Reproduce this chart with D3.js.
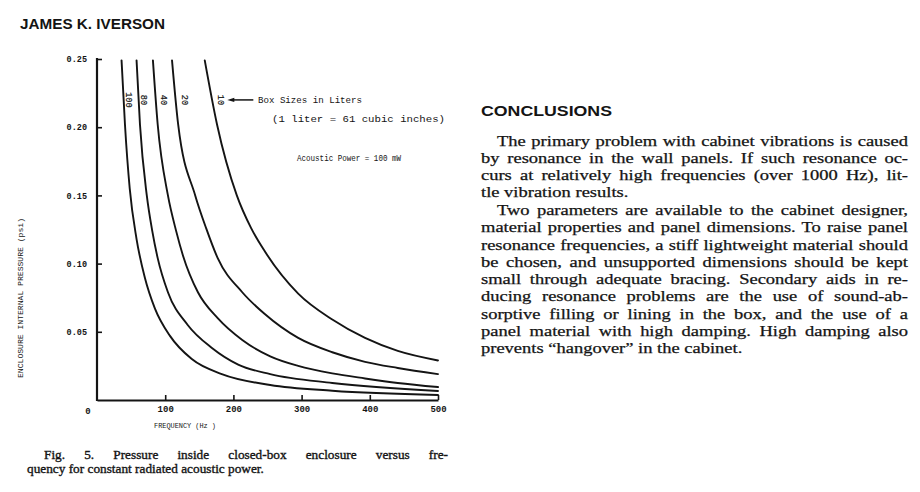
<!DOCTYPE html>
<html><head><meta charset="utf-8">
<script src="https://cdn.jsdelivr.net/npm/d3@7"></script>
<style>
html,body{margin:0;padding:0;background:#fff;}
svg{display:block;}
</style></head>
<body>
<svg id="c" width="920" height="492"></svg>
<script>
// ---- data ----
const boxSizes = [100, 80, 40, 20, 10];
const freq100 = [36, 41, 48, 58, 70, 85, 107, 139, 183, 254, 345, 500];
const psi100  = [0.249, 0.202, 0.155, 0.118, 0.090, 0.067, 0.047, 0.030, 0.019, 0.011, 0.0068, 0.0037];
const freq80  = [58, 63, 73, 81, 89, 104, 133, 169, 207, 254, 345, 500];
const psi80   = [0.249, 0.202, 0.150, 0.124, 0.104, 0.079, 0.055, 0.038, 0.026, 0.019, 0.0125, 0.0066];
const freq40  = [82, 89, 104, 116, 126, 148, 177, 213, 254, 295, 345, 393, 441, 500];
const psi40   = [0.249, 0.202, 0.150, 0.124, 0.106, 0.079, 0.060, 0.044, 0.032, 0.025, 0.0195, 0.0158, 0.0125, 0.0095];
const freq20  = [110, 119, 144, 160, 177, 213, 246, 295, 345, 393, 441, 500];
const psi20   = [0.249, 0.202, 0.150, 0.126, 0.104, 0.079, 0.063, 0.0455, 0.035, 0.028, 0.0235, 0.019];
const freq10  = [158, 176, 205, 226, 246, 295, 345, 393, 441, 500];
const psi10   = [0.249, 0.202, 0.150, 0.126, 0.109, 0.078, 0.059, 0.0455, 0.036, 0.029];
const xTicks = [0, 100, 200, 300, 400, 500];
const yTicks = [0.05, 0.10, 0.15, 0.20, 0.25];
const yTickLabels = ["0.05", "0.10", "0.15", "0.20", "0.25"];
const labelPsi = 0.22;

const pageTitle = "JAMES K. IVERSON";
const xTitle = "FREQUENCY (Hz )";
const yTitle = "ENCLOSURE INTERNAL PRESSURE (psi)";
const legend1 = "Box Sizes in Liters";
const legend2 = "(1 liter = 61 cubic inches)";
const legend3 = "Acoustic Power = 100 mW";
const caption = ["Fig. 5. Pressure inside closed-box enclosure versus fre-",
                 "quency for constant radiated acoustic power."];
const heading = "CONCLUSIONS";
const para1 = ["The primary problem with cabinet vibrations is caused",
               "by resonance in the wall panels. If such resonance oc-",
               "curs at relatively high frequencies (over 1000 Hz), lit-",
               "tle vibration results."];
const para2 = ["Two parameters are available to the cabinet designer,",
               "material properties and panel dimensions. To raise panel",
               "resonance frequencies, a stiff lightweight material should",
               "be chosen, and unsupported dimensions should be kept",
               "small through adequate bracing. Secondary aids in re-",
               "ducing resonance problems are the use of sound-ab-",
               "sorptive filling or lining in the box, and the use of a",
               "panel material with high damping. High damping also",
               "prevents \u201changover\u201d in the cabinet."];

const series = [
  {size: boxSizes[0], f: freq100, p: psi100},
  {size: boxSizes[1], f: freq80,  p: psi80},
  {size: boxSizes[2], f: freq40,  p: psi40},
  {size: boxSizes[3], f: freq20,  p: psi20},
  {size: boxSizes[4], f: freq10,  p: psi10}
];

// ---- drawing ----
const svg = d3.select("#c");
svg.append("rect").attr("width",920).attr("height",492).attr("fill","#fff");
const ink = "#141414";
const mono = "'Liberation Mono', 'DejaVu Sans Mono', monospace";
const times = "'Liberation Serif', 'DejaVu Serif', serif";

const x = d3.scaleLinear().domain([0, 500]).range([97, 438]);
const y = d3.scaleLinear().domain([0, 0.25]).range([400, 59]);

// set a line with a common glyph scale k; justified lines put the slack in word gaps
function setLine(sel, k, target) {
  const w = sel.node().getComputedTextLength();
  const spaces = (sel.text().match(/ /g) || []).length;
  if (target != null && spaces) {
    const ws = (target / k - w) / spaces;
    sel.attr("word-spacing", ws);
    sel.attr("textLength", target).attr("lengthAdjust", "spacingAndGlyphs");
  } else {
    sel.attr("textLength", w * k).attr("lengthAdjust", "spacingAndGlyphs");
  }
}

// page title
svg.append("text").attr("x", 20).attr("y", 28.5)
  .attr("font-family", "'Liberation Sans', Arial, sans-serif").attr("font-weight", "bold")
  .attr("font-size", 15).attr("fill", ink)
  .attr("textLength", 145).attr("lengthAdjust", "spacingAndGlyphs")
  .text(pageTitle);

// axes
const gx = svg.append("g").attr("transform", `translate(0,${y(0)})`)
  .call(d3.axisBottom(x).tickValues(xTicks.filter(d => d > 0)).tickSize(-5).tickSizeOuter(0).tickFormat(d3.format("d")));
gx.select(".domain").attr("stroke", ink).attr("stroke-width", 2.2);
gx.selectAll(".tick line").attr("stroke", ink).attr("stroke-width", 1.6);
gx.selectAll(".tick text").attr("font-family", mono).attr("font-size", 9).attr("font-weight", "bold")
  .attr("fill", ink).attr("dy", "1.05em");
// zero label at origin corner
svg.append("text").attr("x", x(0) - 9).attr("y", y(0) + 14)
  .attr("font-family", mono).attr("font-size", 9).attr("font-weight", "bold")
  .attr("text-anchor", "middle").attr("fill", ink).text(xTicks[0]);

const gy = svg.append("g").attr("transform", `translate(${x(0)},0)`)
  .call(d3.axisLeft(y).tickValues(yTicks).tickSize(-5).tickSizeOuter(0)
        .tickFormat((d, i) => yTickLabels[i]));
gy.select(".domain").attr("stroke", ink).attr("stroke-width", 2.2)
  .attr("d", `M0,${y(0)+1}V${y(0.25)-1}`);
gy.selectAll(".tick line").attr("stroke", ink).attr("stroke-width", 1.6);
gy.selectAll(".tick text").attr("font-family", mono).attr("font-size", 8.5).attr("font-weight", "bold")
  .attr("fill", ink).attr("x", -10);

// axis titles
svg.append("text").attr("x", 185).attr("y", 428)
  .attr("font-family", mono).attr("font-size", 8).attr("fill", ink)
  .attr("text-anchor", "middle").attr("textLength", 62).attr("lengthAdjust", "spacingAndGlyphs")
  .text(xTitle);
svg.append("text").attr("transform", "translate(23,298) rotate(-90)")
  .attr("font-family", mono).attr("font-size", 8).attr("fill", ink)
  .attr("text-anchor", "middle").attr("textLength", 160).attr("lengthAdjust", "spacingAndGlyphs")
  .text(yTitle);

// curves
const line = d3.line().x(d => x(d[0])).y(d => y(d[1])).curve(d3.curveMonotoneX);
series.forEach(s => {
  const pts = s.f.map((f, i) => [f, s.p[i]]);
  svg.append("path").datum(pts).attr("d", line)
    .attr("fill", "none").attr("stroke", ink).attr("stroke-width", 1.9)
    .attr("stroke-linejoin", "round").attr("stroke-linecap", "round");
});

// curve labels (rotated), placed at labelPsi beside each curve
function freqAt(s, p) {
  for (let i = 0; i < s.p.length - 1; i++) {
    if (s.p[i] >= p && s.p[i+1] <= p) {
      const t = (s.p[i] - p) / (s.p[i] - s.p[i+1]);
      return s.f[i] + t * (s.f[i+1] - s.f[i]);
    }
  }
  return s.f[0];
}
const labelOffsets = [5, 5, 8, 9, 9];
let lastLabelX = 0, lastLabelY = 0;
series.forEach((s, i) => {
  const lx = x(freqAt(s, labelPsi)) + labelOffsets[i];
  const ly = y(labelPsi);
  lastLabelX = lx; lastLabelY = ly;
  svg.append("text").attr("transform", `translate(${lx},${ly}) rotate(90)`)
    .attr("font-family", mono).attr("font-size", 8.5).attr("fill", ink)
    .attr("stroke", ink).attr("stroke-width", 0.2)
    .attr("text-anchor", "middle").attr("dy", "0.35em").text(s.size);
});

// arrow and legend texts
const ax0 = lastLabelX + 6, ax1 = lastLabelX + 32;
svg.append("line").attr("x1", ax0 + 4).attr("x2", ax1).attr("y1", lastLabelY).attr("y2", lastLabelY)
  .attr("stroke", ink).attr("stroke-width", 1.5);
svg.append("path").attr("d", `M${ax0},${lastLabelY}L${ax0+7},${lastLabelY-2.2}L${ax0+7},${lastLabelY+2.2}Z`)
  .attr("fill", ink);
svg.append("text").attr("x", 258).attr("y", lastLabelY + 3)
  .attr("font-family", mono).attr("font-size", 8.5).attr("fill", ink)
  .attr("textLength", 104).attr("lengthAdjust", "spacingAndGlyphs").text(legend1);
svg.append("text").attr("x", 272).attr("y", lastLabelY + 22)
  .attr("font-family", mono).attr("font-size", 9.5).attr("fill", ink)
  .attr("textLength", 173).attr("lengthAdjust", "spacingAndGlyphs").text(legend2);
svg.append("text").attr("x", 297).attr("y", lastLabelY + 61)
  .attr("font-family", mono).attr("font-size", 8.5).attr("fill", ink)
  .attr("textLength", 104).attr("lengthAdjust", "spacingAndGlyphs").text(legend3);

// caption
const capEls = caption.map((t, i) => svg.append("text")
    .attr("x", i === 0 ? 44 : 27).attr("y", 459 + i * 13.5)
    .attr("font-family", times).attr("font-size", 12.5).attr("fill", ink)
    .attr("stroke", ink).attr("stroke-width", 0.35)
    .text(t));
const capK = (233 / capEls[1].node().getComputedTextLength() + 1.08) / 2;
setLine(capEls[0], capK, 404);
setLine(capEls[1], capK, null);

// right column
svg.append("text").attr("x", 481).attr("y", 116)
  .attr("font-family", "'Liberation Sans', Arial, sans-serif").attr("font-weight", "bold")
  .attr("font-size", 15.5).attr("fill", ink)
  .attr("textLength", 131).attr("lengthAdjust", "spacingAndGlyphs").text(heading);

const colL = 481, colR = 908, indent = 16;
function makePara(lines, y0) {
  return lines.map((t, i) => svg.append("text")
    .attr("x", i === 0 ? colL + indent : colL).attr("y", y0 + i * 17.25)
    .attr("font-family", times).attr("font-size", 14).attr("fill", ink)
    .attr("stroke", ink).attr("stroke-width", 0.25)
    .text(t));
}
const p1 = makePara(para1, 145.5);
const p2 = makePara(para2, 215);
// glyph scale from the two paragraph-ending lines (reference widths 155 and 264)
const bodyK = 0.97 * (155 / p1[p1.length-1].node().getComputedTextLength() +
               264 / p2[p2.length-1].node().getComputedTextLength()) / 2;
[p1, p2].forEach(p => p.forEach((el, i) => {
  if (i < p.length - 1) setLine(el, bodyK, colR - (i === 0 ? colL + indent : colL));
  else setLine(el, bodyK, null);
}));
</script>
</body></html>
